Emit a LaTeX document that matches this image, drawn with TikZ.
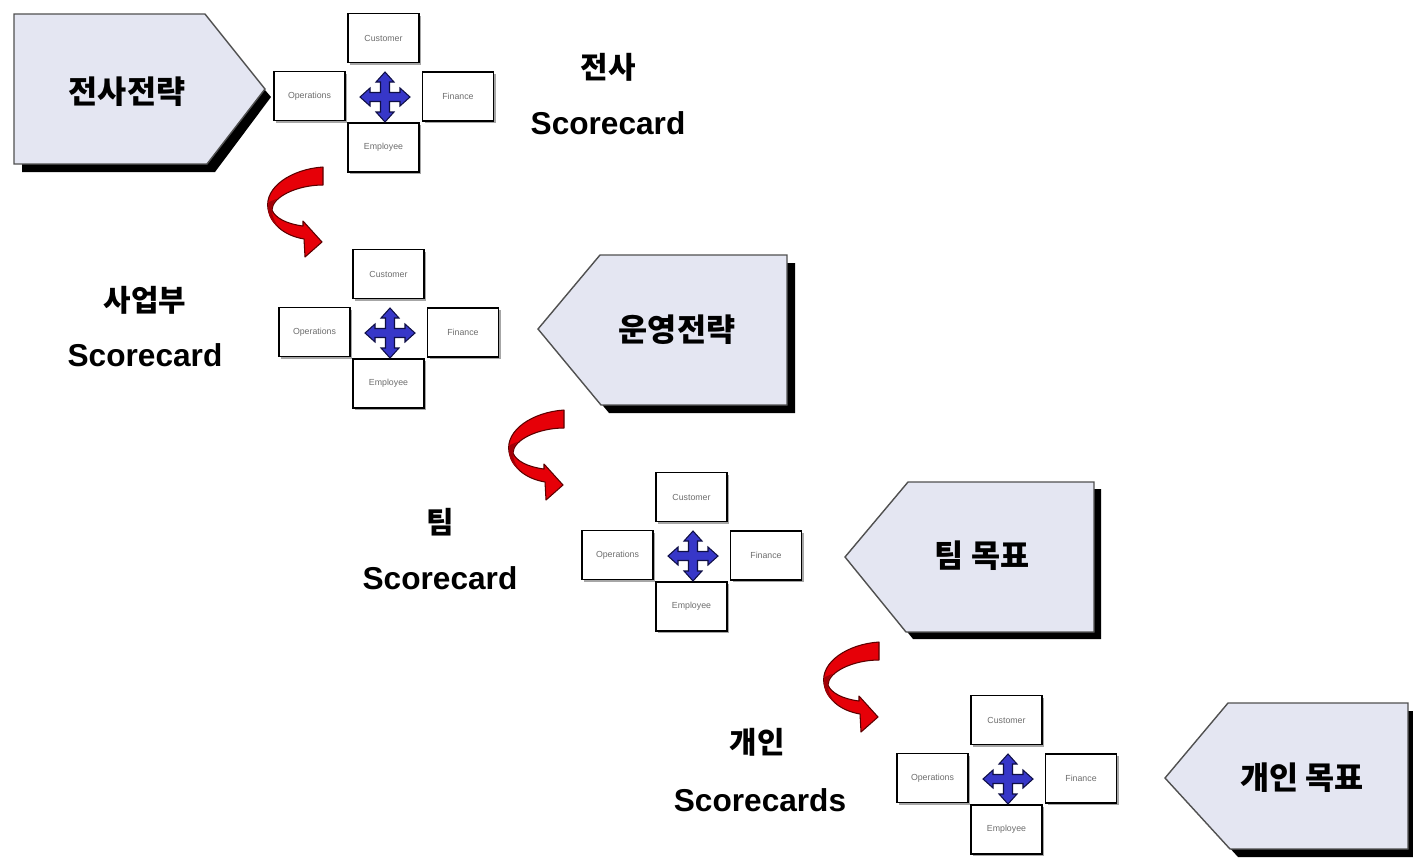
\documentclass[tikz,border=0pt]{standalone}
\usepackage{fontspec}
\setmainfont{Liberation Sans}
\newfontfamily\kr{Noto Sans CJK KR}
\usetikzlibrary{shadows}
\definecolor{pentfill}{RGB}{228,230,242}
\definecolor{pentline}{RGB}{80,80,80}
\definecolor{arrred}{RGB}{230,0,8}
\definecolor{arrdark}{RGB}{90,0,0}
\definecolor{crossblue}{RGB}{55,55,200}
\definecolor{crossdark}{RGB}{15,15,70}
\definecolor{cardtext}{RGB}{110,110,110}
\tikzset{
  pent/.style={fill=pentfill, draw=pentline, line width=0.8pt, line join=miter},
  pshadow/.style={fill=black},
  card/.style={draw=black, fill=white, line width=0.8pt, minimum width=1.42cm,
    minimum height=0.98cm, inner sep=0pt, text=cardtext,
    font=\fontsize{5}{6}\selectfont,
    drop shadow={shadow xshift=0.045cm, shadow yshift=-0.045cm, fill=black!35, opacity=1}},
  crossarrow/.style={fill=crossblue, draw=crossdark, line width=0.6pt, line join=miter},
  redarr/.style={fill=arrred, draw=arrdark, line width=0.6pt, line join=round},
  redtwist/.style={fill=arrred!70!black},
  pentlabel/.style={font=\kr\bfseries\fontsize{18}{21}\selectfont, inner sep=0pt},
  krlabel/.style={font=\kr\bfseries\fontsize{17}{20}\selectfont, inner sep=0pt},
  sclabel/.style={font=\bfseries\fontsize{18}{21}\selectfont, inner sep=0pt},
}
\newcommand\scgroup[3]{%
  \begin{scope}[shift={(#1,#2)}]
    \node[card] (#3c) at (35.5,25) {Customer};
    \node[card] (#3o) at (-38.5,83) {Operations};
    \node[card] (#3f) at (110,83.5) {Finance};
    \node[card] (#3e) at (35.5,134.5) {Employee};
    \path[crossarrow] (37,84) ++(4.5,-4.5) -- ++(0,-10.5) -- ++(4.5,0) -- ++(-9,-10) -- ++(-9,10) -- ++(4.5,0) -- ++(0,10.5)
      -- ++(-10.5,0) -- ++(0,-4.5) -- ++(-10,9) -- ++(10,9) -- ++(0,-4.5) -- ++(10.5,0)
      -- ++(0,10.5) -- ++(-4.5,0) -- ++(9,10) -- ++(9,-10) -- ++(-4.5,0) -- ++(0,-10.5)
      -- ++(10.5,0) -- ++(0,4.5) -- ++(10,-9) -- ++(-10,-9) -- ++(0,4.5) -- cycle;
  \end{scope}}
\newcommand\redcurl[2]{%
  \begin{scope}[shift={(#1,#2)}]
    \path[redarr] (1,-75) .. controls (-30,-73) and (-58,-55) .. (-54,-33)
      .. controls (-50,-15) and (-35,-6) .. (-18,-3) -- (-17,15) -- (0,0) -- (-19,-21) -- (-19,-16)
      .. controls (-35,-18) and (-47,-24) .. (-50,-32)
      .. controls (-50,-45) and (-25,-57) .. (1,-57) -- cycle;
    \path[redtwist] (-53,-40) .. controls (-56,-30) and (-52,-20) .. (-42,-14)
      .. controls (-48,-20) and (-50,-26) .. (-50,-32)
      .. controls (-50,-36) and (-49,-39) .. (-46,-43) -- cycle;
  \end{scope}}
\begin{document}
\begin{tikzpicture}[x=0.02cm, y=-0.02cm]
  \useasboundingbox (0,0) rectangle (1413,860);
  \fill[white] (0,0) rectangle (1413,860);

  % pentagons with shadows
  \path[pshadow] (22,22) -- (207,22) -- (271,97) -- (215,172) -- (22,172) -- cycle;
  \path[pent] (14,14) -- (205,14) -- (265,89) -- (207,164) -- (14,164) -- cycle;
  \node[pentlabel] (p1) at (127,92) {전사전략};

  \path[pshadow] (546,337) -- (608,263) -- (795,263) -- (795,413) -- (609,413) -- cycle;
  \path[pent] (538,329) -- (600,255) -- (787,255) -- (787,405) -- (601,405) -- cycle;
  \node[pentlabel] (p2) at (677,330) {운영전략};

  \path[pshadow] (852,564) -- (915,489) -- (1101,489) -- (1101,639) -- (913,639) -- cycle;
  \path[pent] (845,557) -- (908,482) -- (1094,482) -- (1094,632) -- (906,632) -- cycle;
  \node[pentlabel] (p3) at (982,556) {팀 목표};

  \path[pshadow] (1173,786) -- (1236,711) -- (1416,711) -- (1416,857) -- (1238,857) -- cycle;
  \path[pent] (1165,778) -- (1228,703) -- (1408,703) -- (1408,849) -- (1230,849) -- cycle;
  \node[pentlabel] (p4) at (1302,778) {개인 목표};

  % scorecard groups
  \scgroup{348}{13}{ga}
  \scgroup{353}{249}{gb}
  \scgroup{656}{472}{gc}
  \scgroup{971}{695}{gd}

  % red curved arrows
  \redcurl{322}{242}
  \redcurl{563}{485}
  \redcurl{878}{717}

  % labels
  \node[krlabel] (la1) at (608,67) {전사};
  \node[sclabel] (la2) at (608,123) {Scorecard};
  \node[krlabel] (lb1) at (145,300) {사업부};
  \node[sclabel] (lb2) at (145,355) {Scorecard};
  \node[krlabel] (lc1) at (440,522) {팀};
  \node[sclabel] (lc2) at (440,578) {Scorecard};
  \node[krlabel] (ld1) at (757,742) {개인};
  \node[sclabel] (ld2) at (760,800) {Scorecards};
\end{tikzpicture}
\end{document}
